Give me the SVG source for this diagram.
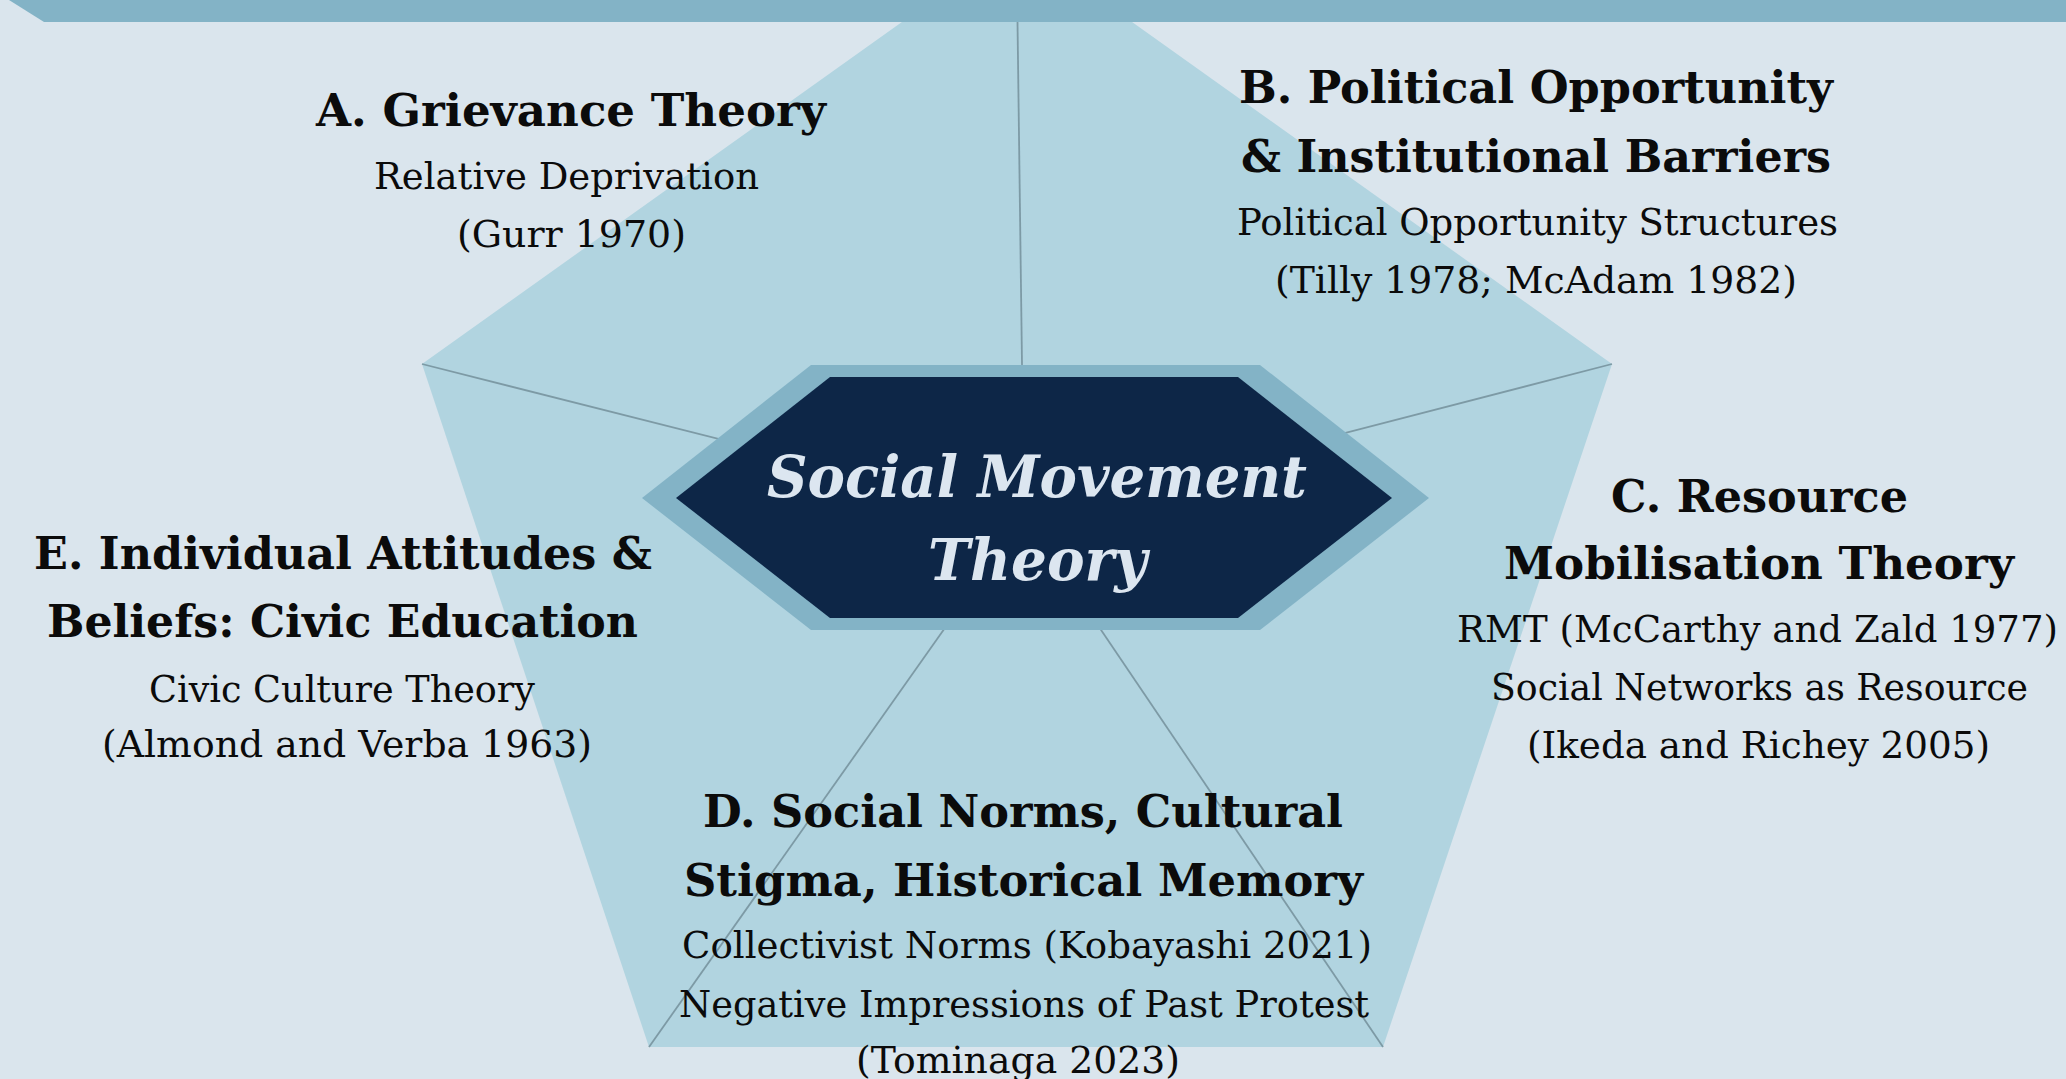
<svg xmlns="http://www.w3.org/2000/svg" width="2066" height="1079" viewBox="0 0 2066 1079">
  <style>
    .bg { fill: #dae5ed; }
    .band { fill: #83b3c6; }
    .penta { fill: #b1d4e0; }
    .spoke { stroke: #7d9aa5; stroke-width: 1.8; fill: none; }
    .hex-outer { fill: #83b3c6; }
    .hex-inner { fill: #0d2647; }
    .title { font-family: "DejaVu Serif", "Liberation Serif", serif; font-weight: bold; font-size: 44px; fill: #0b0b0b; }
    .sub { font-family: "DejaVu Serif", "Liberation Serif", serif; font-size: 37px; fill: #0b0b0b; }
    .core { font-family: "DejaVu Serif", "Liberation Serif", serif; font-weight: bold; font-style: italic; font-size: 57px; fill: #dce6f0; }
  </style>

  <!-- backdrop -->
  <rect class="bg" x="0" y="0" width="2066" height="1079"/>
  <!-- pentagon; apex sits under the top band -->
  <polygon class="penta" points="1017,-60 1612,364 1383,1047 649,1047 422,364"/>
  <!-- top band -->
  <polygon class="band" points="9,0 2066,0 2066,22 44,22"/>

  <!-- spokes from the hub to each pentagon vertex -->
  <g id="connectors">
    <line class="spoke" x1="1024" y1="516" x2="1017.5" y2="22"/>
    <line class="spoke" x1="1024" y1="516" x2="1612" y2="364"/>
    <line class="spoke" x1="1024" y1="516" x2="1383" y2="1047"/>
    <line class="spoke" x1="1024" y1="516" x2="649" y2="1047"/>
    <line class="spoke" x1="1024" y1="516" x2="422" y2="364"/>
  </g>

  <!-- central hub -->
  <g id="node-core">
    <polygon class="hex-outer" points="811,365 1260,365 1429,498 1260,630 811,630 642,498"/>
    <polygon class="hex-inner" points="830,377 1238,377 1392,498 1238,618 830,618 676,498"/>
    <text class="core" x="767" y="497" textLength="540" lengthAdjust="spacingAndGlyphs">Social Movement</text>
    <text class="core" x="928" y="580" textLength="219" lengthAdjust="spacingAndGlyphs">Theory</text>
  </g>

  <g id="node-a">
    <text class="title" x="316" y="126" textLength="510" lengthAdjust="spacingAndGlyphs">A. Grievance Theory</text>
    <text class="sub" x="374" y="189" textLength="385" lengthAdjust="spacingAndGlyphs">Relative Deprivation</text>
    <text class="sub" x="457" y="247" textLength="229" lengthAdjust="spacingAndGlyphs">(Gurr 1970)</text>
  </g>

  <g id="node-b">
    <text class="title" x="1239" y="103" textLength="594" lengthAdjust="spacingAndGlyphs">B. Political Opportunity</text>
    <text class="title" x="1241" y="172" textLength="590" lengthAdjust="spacingAndGlyphs">&amp; Institutional Barriers</text>
    <text class="sub" x="1237" y="235" textLength="601" lengthAdjust="spacingAndGlyphs">Political Opportunity Structures</text>
    <text class="sub" x="1275" y="293" textLength="522" lengthAdjust="spacingAndGlyphs">(Tilly 1978; McAdam 1982)</text>
  </g>

  <g id="node-c">
    <text class="title" x="1611" y="512" textLength="297" lengthAdjust="spacingAndGlyphs">C. Resource</text>
    <text class="title" x="1504" y="579" textLength="510" lengthAdjust="spacingAndGlyphs">Mobilisation Theory</text>
    <text class="sub" x="1457" y="642" textLength="601" lengthAdjust="spacingAndGlyphs">RMT (McCarthy and Zald 1977)</text>
    <text class="sub" x="1491" y="700" textLength="537" lengthAdjust="spacingAndGlyphs">Social Networks as Resource</text>
    <text class="sub" x="1527" y="758" textLength="463" lengthAdjust="spacingAndGlyphs">(Ikeda and Richey 2005)</text>
  </g>

  <g id="node-d">
    <text class="title" x="703" y="827" textLength="640" lengthAdjust="spacingAndGlyphs">D. Social Norms, Cultural</text>
    <text class="title" x="684" y="896" textLength="679" lengthAdjust="spacingAndGlyphs">Stigma, Historical Memory</text>
    <text class="sub" x="682" y="958" textLength="690" lengthAdjust="spacingAndGlyphs">Collectivist Norms (Kobayashi 2021)</text>
    <text class="sub" x="679" y="1017" textLength="690" lengthAdjust="spacingAndGlyphs">Negative Impressions of Past Protest</text>
    <text class="sub" x="856" y="1073" textLength="324" lengthAdjust="spacingAndGlyphs">(Tominaga 2023)</text>
  </g>

  <g id="node-e">
    <text class="title" x="34" y="569" textLength="618" lengthAdjust="spacingAndGlyphs">E. Individual Attitudes &amp;</text>
    <text class="title" x="47" y="637" textLength="591" lengthAdjust="spacingAndGlyphs">Beliefs: Civic Education</text>
    <text class="sub" x="149" y="702" textLength="386" lengthAdjust="spacingAndGlyphs">Civic Culture Theory</text>
    <text class="sub" x="102" y="757" textLength="490" lengthAdjust="spacingAndGlyphs">(Almond and Verba 1963)</text>
  </g>
</svg>
